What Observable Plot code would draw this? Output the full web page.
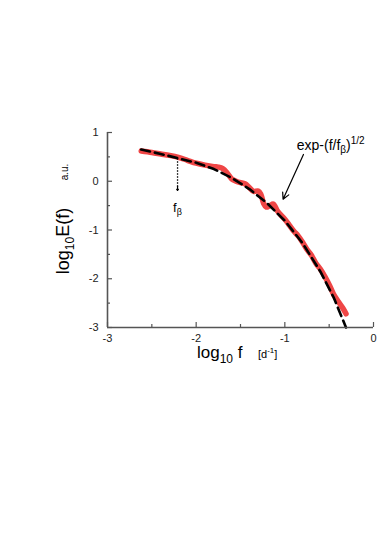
<!DOCTYPE html>
<html><head><meta charset="utf-8">
<script src="https://cdn.jsdelivr.net/npm/d3@7"></script>
<script src="https://cdn.jsdelivr.net/npm/@observablehq/plot@0.6"></script>
<style>body{margin:0;background:#fff;} #chart{width:390px;height:560px;}</style>
</head><body><div id="chart"></div>
<script>
// measured spectrum (red)
const dataLogF = [-2.62,-2.5,-2.4,-2.3,-2.2,-2.1,-2.0,-1.9,-1.8,-1.75,-1.7,-1.65,-1.6,-1.55,-1.5,-1.45,-1.4,-1.35,-1.3,-1.27,-1.24,-1.21,-1.17,-1.13,-1.08,-1.0,-0.95,-0.9,-0.85,-0.8,-0.75,-0.7,-0.65,-0.6,-0.55,-0.5,-0.45,-0.4,-0.37,-0.34,-0.31];
const dataLogE = [0.62,0.59,0.56,0.53,0.49,0.43,0.37,0.33,0.30,0.29,0.26,0.17,0.05,0.0,-0.03,-0.05,-0.13,-0.21,-0.20,-0.27,-0.45,-0.53,-0.50,-0.47,-0.62,-0.78,-0.90,-1.02,-1.12,-1.25,-1.40,-1.52,-1.68,-1.80,-1.95,-2.12,-2.32,-2.46,-2.54,-2.62,-2.72];
// stretched-exponential fit (black dashed)
const fitLogF = [-2.62,-2.4,-2.2,-2.0,-1.8,-1.6,-1.4,-1.2,-1.0,-0.8,-0.6,-0.45,-0.31];
const fitLogE = [0.65,0.56,0.47,0.38,0.25,0.07,-0.16,-0.45,-0.81,-1.27,-1.85,-2.38,-3.0];
const xTicks = [-3,-2,-1,0];
const yTicks = [1,0,-1,-2,-3];
const xMinor = [-2.5,-1.5,-0.5];
const yMinor = [0.5,-0.5,-1.5,-2.5];
const fBetaLogF = -2.21;

const data = dataLogF.map((x,i)=>({x, y:dataLogE[i]}));
const fit = fitLogF.map((x,i)=>({x, y:fitLogE[i]}));

const axisColor = "#555";
const plot = Plot.plot({
  width:390, height:560,
  marginLeft:107, marginRight:17, marginTop:132, marginBottom:233,
  x:{domain:[-3,0]}, y:{domain:[-3,1]},
  style:{fontFamily:"'Liberation Sans', Arial, sans-serif", fontSize:"11px", color:"#222", background:"#fff"},
  marks:[
    Plot.line(data,{x:"x",y:"y",stroke:"#ef4646",strokeWidth:5.5,curve:"catmull-rom",strokeLinecap:"round"}),
    Plot.line(fit,{x:"x",y:"y",stroke:"#000",strokeWidth:2.6,strokeDasharray:"9,5"}),
    Plot.axisX({ticks:xTicks, tickSize:-5, tickPadding:12, label:null, tickFormat:d=>String(d), stroke:axisColor, strokeWidth:1.2}),
    Plot.axisX({ticks:xMinor, tickSize:-3, label:null, tickFormat:()=>"", stroke:axisColor, strokeWidth:1.2}),
    Plot.axisY({ticks:yTicks, tickSize:-5, tickPadding:14, label:null, tickFormat:d=>String(d), stroke:axisColor, strokeWidth:1.2}),
    Plot.axisY({ticks:yMinor, tickSize:-3, label:null, tickFormat:()=>"", stroke:axisColor, strokeWidth:1.2}),
    Plot.ruleY([-3],{stroke:axisColor,strokeWidth:1.6}),
    Plot.ruleX([-3],{stroke:axisColor,strokeWidth:1.6}),
    Plot.link([{x1:fBetaLogF,y1:0.47,x2:fBetaLogF,y2:-0.12}],{x1:"x1",y1:"y1",x2:"x2",y2:"y2",stroke:"#000",strokeWidth:1.3,strokeDasharray:"1.5,1.5"}),
    Plot.arrow([{x1:fBetaLogF,y1:-0.10,x2:fBetaLogF,y2:-0.19}],{x1:"x1",y1:"y1",x2:"x2",y2:"y2",stroke:"#000",strokeWidth:1.2,headLength:7,headAngle:70}),
    Plot.arrow([{x1:-0.79,y1:0.55,x2:-1.02,y2:-0.37}],{x1:"x1",y1:"y1",x2:"x2",y2:"y2",stroke:"#000",strokeWidth:1.2,headLength:9,headAngle:55})
  ]
});
document.getElementById("chart").appendChild(plot);

const sx = plot.scale("x"), sy = plot.scale("y");
const svg = d3.select(plot);
const font = "'Liberation Sans', Arial, sans-serif";

// f_beta label
const tb = svg.append("text").attr("x", sx.apply(fBetaLogF)-4).attr("y", 212).attr("text-anchor","start")
  .attr("font-family", font).attr("font-size", 13).attr("fill","#000");
tb.append("tspan").text("f");
tb.append("tspan").attr("font-size",9).attr("dy",3).text("β");

// fit formula
const te = svg.append("text").attr("x", sx.apply(-0.86)).attr("y", sy.apply(0.64)).attr("text-anchor","start")
  .attr("font-family", font).attr("font-size", 14).attr("fill","#000");
te.append("tspan").text("exp-(f/f");
te.append("tspan").attr("font-size",10).attr("dy",3).text("β");
te.append("tspan").attr("dy",-3).text(")");
te.append("tspan").attr("font-size",10).attr("dy",-6).text("1/2");

// x axis title
const tx = svg.append("text").attr("x",197).attr("y",358).attr("text-anchor","start")
  .attr("font-family", font).attr("font-size",17).attr("fill","#000");
tx.append("tspan").text("log");
tx.append("tspan").attr("font-size",12).attr("dy",5).text("10");
tx.append("tspan").attr("dy",-5).text(" f");
const tu = svg.append("text").attr("x",258).attr("y",358).attr("text-anchor","start")
  .attr("font-family", font).attr("font-size",11).attr("fill","#000");
tu.append("tspan").text("[d");
tu.append("tspan").attr("font-size",8).attr("dy",-5).text("-1");
tu.append("tspan").attr("dy",5).text("]");

// y axis title
const ty = svg.append("text").attr("transform","translate(69,241) rotate(-90)")
  .attr("text-anchor","middle").attr("font-family", font).attr("font-size",18).attr("fill","#000");
ty.append("tspan").text("log");
ty.append("tspan").attr("font-size",12).attr("dy",5).text("10");
ty.append("tspan").attr("dy",-5).text("E(f)");
svg.append("text").attr("transform","translate(68,172) rotate(-90)")
  .attr("text-anchor","middle").attr("font-family", font).attr("font-size",10).attr("fill","#000").text("a.u.");
</script>
</body></html>
